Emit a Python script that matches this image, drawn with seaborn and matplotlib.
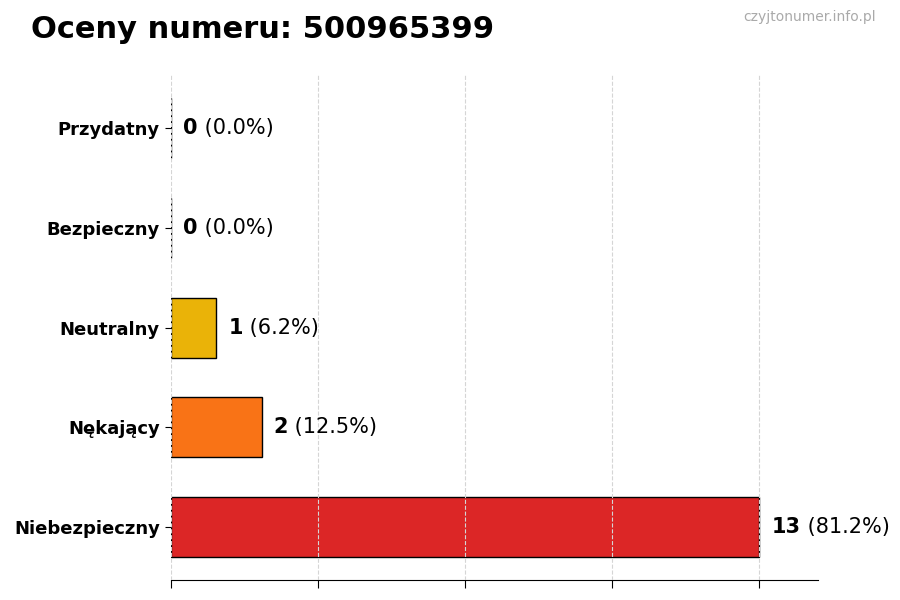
import matplotlib
matplotlib.use('AGG')
import matplotlib.pyplot as plt
import seaborn as sns
import pandas as pd

categories = ['Przydatny', 'Bezpieczny', 'Neutralny', 'Nękający', 'Niebezpieczny']
counts = [0, 0, 1, 2, 13]
bar_colors = ['#22C55E', '#3B82F6', '#EAB308', '#F97316', '#DC2626']
number = '500965399'

sns.set_style('white')
plt.rcParams['font.family'] = ['DejaVu Sans']
plt.rcParams['text.color'] = 'black'
plt.rcParams['xtick.color'] = 'black'
plt.rcParams['ytick.color'] = 'black'

df = pd.DataFrame({'kategoria': categories, 'liczba': counts})
total = sum(counts)

fig = plt.figure(figsize=(9, 6), dpi=100)
ax = fig.add_axes([0.19, 0.033, 0.719, 0.842])

sns.barplot(data=df, y='kategoria', x='liczba', hue='kategoria',
            palette=bar_colors, orient='h', width=0.6, saturation=1,
            edgecolor='black', linewidth=1, legend=False, ax=ax)

top = max(counts)
ax.set_xlim(0, top * 1.1)
ax.set_xticks([top * i / 4 for i in range(5)])
ax.set_xticklabels([])
ax.set_xlabel('')
ax.set_ylabel('')
ax.set_ylim(4.53, -0.53)

ax.grid(axis='x', linestyle='--', color='#d5d5d5', linewidth=0.8)
ax.set_axisbelow(False)
for side in ['top', 'right', 'left']:
    ax.spines[side].set_visible(False)
ax.spines['bottom'].set_color('black')
ax.tick_params(axis='x', length=6, color='black', bottom=True)
ax.tick_params(axis='y', length=4, color='black', left=True, pad=4)
for lbl in ax.get_yticklabels():
    lbl.set_fontweight('bold')
    lbl.set_fontsize(13)
    lbl.set_color('black')

for i, v in enumerate(counts):
    pct = v / total * 100
    t = ax.text(v + top * 0.021, i, str(v), va='center', ha='left',
                fontsize=15, fontweight='bold', color='black')
    ax.annotate(f' ({pct:.1f}%)', xy=(1, 0.5), xycoords=t,
                va='center', ha='left', fontsize=15, color='black')

fig.text(0.034, 0.95, f'Oceny numeru: {number}', fontsize=22,
         fontweight='bold', ha='left', va='center', color='black')
fig.text(0.973, 0.971, 'czyjtonumer.info.pl', fontsize=10,
         color='#aaaaaa', ha='right', va='center')

plt.savefig('out.png', dpi=100)
